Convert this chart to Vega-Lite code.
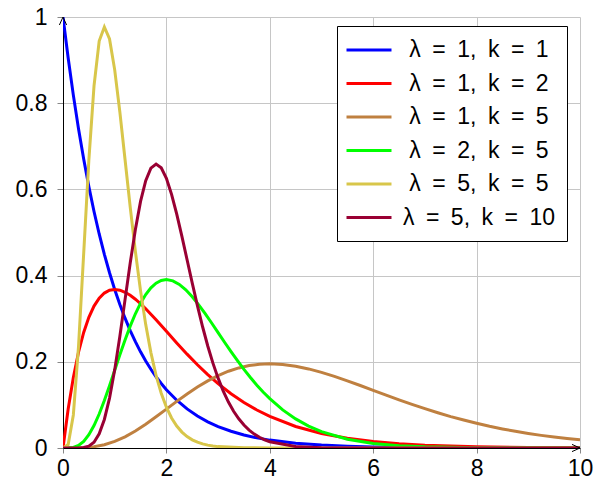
{
  "$schema": "https://vega.github.io/schema/vega-lite/v6.json",
  "width": 517,
  "height": 431,
  "autosize": {"type": "none"},
  "padding": {"left": 63, "top": 17, "right": 17, "bottom": 36},
  "config": {"view": {"stroke": null}, "font": "Liberation Sans"},
  "layer": [
    {
      "data": {"values": [
        {"s":"a","x":0,"y":1},{"s":"a","x":0.1,"y":0.9048},{"s":"a","x":0.2,"y":0.8187},{"s":"a","x":0.3,"y":0.7408},{"s":"a","x":0.4,"y":0.6703},{"s":"a","x":0.5,"y":0.6065},{"s":"a","x":0.6,"y":0.5488},{"s":"a","x":0.7,"y":0.4966},{"s":"a","x":0.8,"y":0.4493},{"s":"a","x":0.9,"y":0.4066},{"s":"a","x":1,"y":0.3679},{"s":"a","x":1.1,"y":0.3329},{"s":"a","x":1.2,"y":0.3012},{"s":"a","x":1.3,"y":0.2725},{"s":"a","x":1.4,"y":0.2466},{"s":"a","x":1.5,"y":0.2231},{"s":"a","x":1.6,"y":0.2019},{"s":"a","x":1.7,"y":0.1827},{"s":"a","x":1.8,"y":0.1653},{"s":"a","x":1.9,"y":0.1496},{"s":"a","x":2,"y":0.1353},{"s":"a","x":2.2,"y":0.1108},{"s":"a","x":2.4,"y":0.0907},{"s":"a","x":2.6,"y":0.0743},{"s":"a","x":2.8,"y":0.0608},{"s":"a","x":3,"y":0.0498},{"s":"a","x":3.25,"y":0.0388},{"s":"a","x":3.5,"y":0.0302},{"s":"a","x":3.75,"y":0.0235},{"s":"a","x":4,"y":0.0183},{"s":"a","x":4.5,"y":0.0111},{"s":"a","x":5,"y":0.0067},{"s":"a","x":5.5,"y":0.0041},{"s":"a","x":6,"y":0.0025},{"s":"a","x":7,"y":0.0009},{"s":"a","x":8,"y":0.0003},{"s":"a","x":10,"y":0},
        {"s":"b","x":0,"y":0},{"s":"b","x":0.1,"y":0.0905},{"s":"b","x":0.2,"y":0.1637},{"s":"b","x":0.3,"y":0.2222},{"s":"b","x":0.4,"y":0.2681},{"s":"b","x":0.5,"y":0.3033},{"s":"b","x":0.6,"y":0.3293},{"s":"b","x":0.7,"y":0.3476},{"s":"b","x":0.8,"y":0.3595},{"s":"b","x":0.9,"y":0.3659},{"s":"b","x":1,"y":0.3679},{"s":"b","x":1.1,"y":0.3662},{"s":"b","x":1.2,"y":0.3614},{"s":"b","x":1.3,"y":0.3543},{"s":"b","x":1.4,"y":0.3452},{"s":"b","x":1.5,"y":0.3347},{"s":"b","x":1.6,"y":0.323},{"s":"b","x":1.8,"y":0.2975},{"s":"b","x":2,"y":0.2707},{"s":"b","x":2.2,"y":0.2438},{"s":"b","x":2.4,"y":0.2177},{"s":"b","x":2.6,"y":0.1931},{"s":"b","x":2.8,"y":0.1703},{"s":"b","x":3,"y":0.1494},{"s":"b","x":3.25,"y":0.126},{"s":"b","x":3.5,"y":0.1057},{"s":"b","x":3.75,"y":0.0882},{"s":"b","x":4,"y":0.0733},{"s":"b","x":4.5,"y":0.05},{"s":"b","x":5,"y":0.0337},{"s":"b","x":5.5,"y":0.0225},{"s":"b","x":6,"y":0.0149},{"s":"b","x":6.5,"y":0.0098},{"s":"b","x":7,"y":0.0064},{"s":"b","x":8,"y":0.0027},{"s":"b","x":9,"y":0.0011},{"s":"b","x":10,"y":0.0005},
        {"s":"c","x":0,"y":0},{"s":"c","x":0.2,"y":0.0001},{"s":"c","x":0.4,"y":0.0007},{"s":"c","x":0.6,"y":0.003},{"s":"c","x":0.8,"y":0.0077},{"s":"c","x":1,"y":0.0153},{"s":"c","x":1.2,"y":0.026},{"s":"c","x":1.4,"y":0.0395},{"s":"c","x":1.6,"y":0.0551},{"s":"c","x":1.8,"y":0.0723},{"s":"c","x":2,"y":0.0902},{"s":"c","x":2.2,"y":0.1082},{"s":"c","x":2.4,"y":0.1254},{"s":"c","x":2.6,"y":0.1414},{"s":"c","x":2.8,"y":0.1557},{"s":"c","x":3,"y":0.168},{"s":"c","x":3.2,"y":0.1781},{"s":"c","x":3.4,"y":0.1858},{"s":"c","x":3.6,"y":0.1912},{"s":"c","x":3.8,"y":0.1944},{"s":"c","x":4,"y":0.1954},{"s":"c","x":4.25,"y":0.1939},{"s":"c","x":4.5,"y":0.1898},{"s":"c","x":4.75,"y":0.1835},{"s":"c","x":5,"y":0.1755},{"s":"c","x":5.25,"y":0.1661},{"s":"c","x":5.5,"y":0.1558},{"s":"c","x":5.75,"y":0.145},{"s":"c","x":6,"y":0.1339},{"s":"c","x":6.25,"y":0.1227},{"s":"c","x":6.5,"y":0.1118},{"s":"c","x":6.75,"y":0.1013},{"s":"c","x":7,"y":0.0912},{"s":"c","x":7.25,"y":0.0818},{"s":"c","x":7.5,"y":0.0729},{"s":"c","x":7.75,"y":0.0648},{"s":"c","x":8,"y":0.0573},{"s":"c","x":8.25,"y":0.0504},{"s":"c","x":8.5,"y":0.0443},{"s":"c","x":8.75,"y":0.0387},{"s":"c","x":9,"y":0.0337},{"s":"c","x":9.25,"y":0.0293},{"s":"c","x":9.5,"y":0.0254},{"s":"c","x":9.75,"y":0.022},{"s":"c","x":10,"y":0.0189},
        {"s":"d","x":0,"y":0},{"s":"d","x":0.1,"y":0.0001},{"s":"d","x":0.2,"y":0.0014},{"s":"d","x":0.3,"y":0.0059},{"s":"d","x":0.4,"y":0.0153},{"s":"d","x":0.5,"y":0.0307},{"s":"d","x":0.6,"y":0.052},{"s":"d","x":0.7,"y":0.0789},{"s":"d","x":0.8,"y":0.1103},{"s":"d","x":0.9,"y":0.1446},{"s":"d","x":1,"y":0.1804},{"s":"d","x":1.1,"y":0.2163},{"s":"d","x":1.2,"y":0.2508},{"s":"d","x":1.3,"y":0.2828},{"s":"d","x":1.4,"y":0.3115},{"s":"d","x":1.5,"y":0.3361},{"s":"d","x":1.6,"y":0.3562},{"s":"d","x":1.7,"y":0.3716},{"s":"d","x":1.8,"y":0.3824},{"s":"d","x":1.9,"y":0.3887},{"s":"d","x":2,"y":0.3907},{"s":"d","x":2.125,"y":0.3878},{"s":"d","x":2.25,"y":0.3796},{"s":"d","x":2.375,"y":0.367},{"s":"d","x":2.5,"y":0.3509},{"s":"d","x":2.625,"y":0.3322},{"s":"d","x":2.75,"y":0.3117},{"s":"d","x":2.875,"y":0.29},{"s":"d","x":3,"y":0.2677},{"s":"d","x":3.125,"y":0.2454},{"s":"d","x":3.25,"y":0.2236},{"s":"d","x":3.375,"y":0.2026},{"s":"d","x":3.5,"y":0.1825},{"s":"d","x":3.625,"y":0.1635},{"s":"d","x":3.75,"y":0.1458},{"s":"d","x":3.875,"y":0.1295},{"s":"d","x":4,"y":0.1145},{"s":"d","x":4.25,"y":0.0885},{"s":"d","x":4.5,"y":0.0675},{"s":"d","x":4.75,"y":0.0508},{"s":"d","x":5,"y":0.0378},{"s":"d","x":5.5,"y":0.0204},{"s":"d","x":6,"y":0.0106},{"s":"d","x":6.5,"y":0.0054},{"s":"d","x":7,"y":0.0027},{"s":"d","x":8,"y":0.0006},{"s":"d","x":10,"y":0},
        {"s":"e","x":0,"y":0},{"s":"e","x":0.1,"y":0.0079},{"s":"e","x":0.2,"y":0.0766},{"s":"e","x":0.3,"y":0.2353},{"s":"e","x":0.4,"y":0.4511},{"s":"e","x":0.5,"y":0.668},{"s":"e","x":0.6,"y":0.8402},{"s":"e","x":0.7,"y":0.9441},{"s":"e","x":0.8,"y":0.9768},{"s":"e","x":0.9,"y":0.9491},{"s":"e","x":1,"y":0.8774},{"s":"e","x":1.1,"y":0.7792},{"s":"e","x":1.2,"y":0.6693},{"s":"e","x":1.3,"y":0.559},{"s":"e","x":1.4,"y":0.4562},{"s":"e","x":1.5,"y":0.3646},{"s":"e","x":1.6,"y":0.2863},{"s":"e","x":1.7,"y":0.2213},{"s":"e","x":1.8,"y":0.1687},{"s":"e","x":1.9,"y":0.127},{"s":"e","x":2,"y":0.0946},{"s":"e","x":2.1,"y":0.0697},{"s":"e","x":2.2,"y":0.0509},{"s":"e","x":2.3,"y":0.0369},{"s":"e","x":2.4,"y":0.0265},{"s":"e","x":2.5,"y":0.019},{"s":"e","x":2.6,"y":0.0135},{"s":"e","x":2.7,"y":0.0095},{"s":"e","x":2.8,"y":0.0067},{"s":"e","x":2.9,"y":0.0046},{"s":"e","x":3,"y":0.0032},{"s":"e","x":3.5,"y":0.0005},{"s":"e","x":4,"y":0.0001},{"s":"e","x":10,"y":0},
        {"s":"f","x":0,"y":0},{"s":"f","x":0.1,"y":0},{"s":"f","x":0.2,"y":0},{"s":"f","x":0.3,"y":0.0001},{"s":"f","x":0.4,"y":0.001},{"s":"f","x":0.5,"y":0.0043},{"s":"f","x":0.6,"y":0.0135},{"s":"f","x":0.7,"y":0.0328},{"s":"f","x":0.8,"y":0.0662},{"s":"f","x":0.9,"y":0.1158},{"s":"f","x":1,"y":0.1813},{"s":"f","x":1.1,"y":0.2593},{"s":"f","x":1.2,"y":0.3442},{"s":"f","x":1.3,"y":0.4291},{"s":"f","x":1.4,"y":0.507},{"s":"f","x":1.5,"y":0.5722},{"s":"f","x":1.6,"y":0.6204},{"s":"f","x":1.7,"y":0.6493},{"s":"f","x":1.8,"y":0.6588},{"s":"f","x":1.9,"y":0.65},{"s":"f","x":2,"y":0.6256},{"s":"f","x":2.1,"y":0.5886},{"s":"f","x":2.2,"y":0.5426},{"s":"f","x":2.3,"y":0.491},{"s":"f","x":2.4,"y":0.4368},{"s":"f","x":2.5,"y":0.3826},{"s":"f","x":2.6,"y":0.3303},{"s":"f","x":2.7,"y":0.2813},{"s":"f","x":2.8,"y":0.2367},{"s":"f","x":2.9,"y":0.1969},{"s":"f","x":3,"y":0.162},{"s":"f","x":3.1,"y":0.132},{"s":"f","x":3.2,"y":0.1066},{"s":"f","x":3.3,"y":0.0853},{"s":"f","x":3.4,"y":0.0677},{"s":"f","x":3.5,"y":0.0533},{"s":"f","x":3.6,"y":0.0416},{"s":"f","x":3.7,"y":0.0323},{"s":"f","x":3.8,"y":0.0249},{"s":"f","x":3.9,"y":0.0191},{"s":"f","x":4,"y":0.0145},{"s":"f","x":4.5,"y":0.0034},{"s":"f","x":5,"y":0.0007},{"s":"f","x":6,"y":0},{"s":"f","x":10,"y":0}
      ]},
      "mark": {"type": "line", "strokeWidth": 3, "clip": true},
      "encoding": {
        "x": {"field": "x", "type": "quantitative",
          "scale": {"domain": [0, 10], "nice": false, "zero": false},
          "axis": {"title": null, "values": [0, 2, 4, 6, 8, 10], "grid": true, "gridColor": "#c6c6c6", "gridWidth": 1,
            "domainColor": "black", "domainWidth": 1, "tickColor": "#888888", "tickSize": 5, "tickWidth": 1,
            "labelFontSize": 23, "labelFont": "Liberation Sans", "labelColor": "black", "labelPadding": 4,
            "labelFlush": false, "labelOverlap": false}},
        "y": {"field": "y", "type": "quantitative",
          "scale": {"domain": [0, 1], "nice": false},
          "axis": {"title": null, "values": [0, 0.2, 0.4, 0.6, 0.8, 1], "format": "~g", "grid": true, "gridColor": "#c6c6c6", "gridWidth": 1,
            "domainColor": "black", "domainWidth": 1, "tickColor": "#888888", "tickSize": 6, "tickWidth": 1,
            "labelFontSize": 23, "labelFont": "Liberation Sans", "labelColor": "black", "labelPadding": 10,
            "labelFlush": false, "labelOverlap": false}},
        "color": {"field": "s", "type": "nominal",
          "scale": {"domain": ["a", "b", "c", "d", "e", "f"], "range": ["#0000ff", "#ff0000", "#bf8040", "#00ff00", "#d8c64a", "#990033"]},
          "legend": {"title": null, "orient": "none", "legendX": 274, "legendY": 9, "direction": "vertical",
            "fillColor": "white", "strokeColor": "black", "padding": 11, "cornerRadius": 0,
            "symbolType": "M-2,0H2", "symbolSize": 506, "symbolStrokeWidth": 3, "symbolOffset": 8,
            "labelFontSize": 23, "labelFont": "Liberation Sans", "labelColor": "black", "labelAlign": "center", "labelOffset": 97,
            "rowPadding": 8.5,
            "labelExpr": "datum.label=='a'?'λ\u2002=\u20021,\u2002k\u2002=\u20021':datum.label=='b'?'λ\u2002=\u20021,\u2002k\u2002=\u20022':datum.label=='c'?'λ\u2002=\u20021,\u2002k\u2002=\u20025':datum.label=='d'?'λ\u2002=\u20022,\u2002k\u2002=\u20025':datum.label=='e'?'λ\u2002=\u20025,\u2002k\u2002=\u20025':'λ\u2002=\u20025,\u2002k\u2002=\u200210'"}}
      }
    },
    {
      "data": {"values": [{"x": 10, "y": 0, "d": "r"}, {"x": 0, "y": 1, "d": "u"}]},
      "mark": {"type": "point", "filled": false, "color": "black", "strokeWidth": 1, "size": 256, "opacity": 1},
      "encoding": {
        "x": {"field": "x", "type": "quantitative"},
        "y": {"field": "y", "type": "quantitative"},
        "shape": {"field": "d", "type": "nominal", "scale": {"domain": ["r", "u"], "range": ["M-1,-0.45L0,0L-1,0.45", "M-0.45,1L0,0L0.45,1"]}, "legend": null}
      }
    }
  ]
}
